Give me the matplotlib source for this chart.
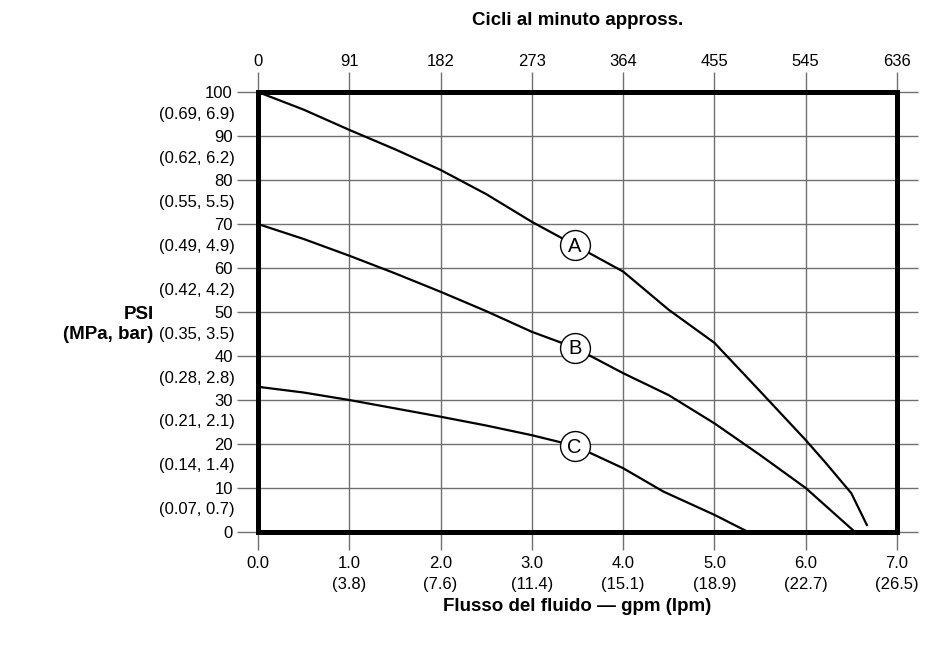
import matplotlib
matplotlib.use("Agg")
import matplotlib.pyplot as plt

plt.rcParams['font.family'] = ['Liberation Sans', 'DejaVu Sans']

# flow in gpm, pressure in psi
gpm_a = [0.0, 0.5, 1.0, 1.5, 2.0, 2.5, 3.0, 3.47, 4.0, 4.5, 5.0, 5.5, 6.0, 6.22, 6.5, 6.67]
psi_a = [100, 96.0, 91.4, 87.0, 82.3, 76.8, 70.5, 65.2, 59.2, 50.5, 43.0, 32.0, 20.9, 15.7, 8.8, 1.6]
gpm_b = [0.0, 0.5, 1.0, 1.5, 2.0, 2.5, 3.0, 3.47, 4.0, 4.5, 5.0, 5.5, 6.0, 6.54]
psi_b = [70, 66.6, 62.8, 58.8, 54.6, 50.2, 45.5, 41.9, 36.1, 31.1, 24.7, 17.5, 10.0, 0.0]
gpm_c = [0.0, 0.5, 1.0, 1.5, 2.0, 2.5, 3.0, 3.47, 4.0, 4.44, 5.0, 5.37]
psi_c = [33, 31.7, 30.0, 28.1, 26.2, 24.2, 22.0, 19.6, 14.5, 9.2, 3.9, 0.0]

curve_names = ['A', 'B', 'C']
label_gpm = [3.47, 3.47, 3.47]
label_psi = [65.2, 41.9, 19.6]

gpm_ticks = [0, 1, 2, 3, 4, 5, 6, 7]
gpm_labels = ['0.0', '1.0\n(3.8)', '2.0\n(7.6)', '3.0\n(11.4)', '4.0\n(15.1)',
              '5.0\n(18.9)', '6.0\n(22.7)', '7.0\n(26.5)']
cpm_labels = ['0', '91', '182', '273', '364', '455', '545', '636']
psi_ticks = [0, 10, 20, 30, 40, 50, 60, 70, 80, 90, 100]
mpa_bar = ['(0.07, 0.7)', '(0.14, 1.4)', '(0.21, 2.1)', '(0.28, 2.8)', '(0.35, 3.5)',
           '(0.42, 4.2)', '(0.49, 4.9)', '(0.55, 5.5)', '(0.62, 6.2)', '(0.69, 6.9)']

fig = plt.figure(figsize=(9.36, 6.49), dpi=100)
ax = fig.add_axes([0.2756, 0.1803, 0.6827, 0.6779])
ax.set_xlim(0, 7)
ax.set_ylim(0, 100)

grid_col = '#707070'
ax.grid(True, color=grid_col, lw=1.0)
ax.set_axisbelow(True)

ax.set_xticks(gpm_ticks)
ax.set_xticklabels(gpm_labels, fontsize=12, linespacing=1.5, va='top')
ax.set_yticks(psi_ticks)
ax.set_yticklabels([str(v) for v in psi_ticks], fontsize=12)
ax.tick_params(axis='x', length=13, color=grid_col, width=1, pad=4)
ax.tick_params(axis='y', length=15, color=grid_col, width=1, pad=3)
ax.tick_params(axis='y', which='major', right=True)

for side in ax.spines.values():
    side.set_linewidth(3.6)
    side.set_color('black')

# secondary labels between psi ticks
for v, txt in zip(psi_ticks[:-1], mpa_bar):
    ax.text(-0.255, v + 5, txt, ha='right', va='center', fontsize=12,
            transform=ax.transData, clip_on=False)

top = ax.secondary_xaxis('top')
top.set_xticks(gpm_ticks)
top.set_xticklabels(cpm_labels, fontsize=12)
top.tick_params(length=14.4, color=grid_col, width=1, pad=2.5)
top.spines['top'].set_visible(False)

for x, y in [(gpm_a, psi_a), (gpm_b, psi_b), (gpm_c, psi_c)]:
    ax.plot(x, y, color='black', lw=1.6, solid_joinstyle='round', zorder=3)

for name, x, y in zip(curve_names, label_gpm, label_psi):
    ax.plot(x, y, 'o', ms=21.5, mfc='white', mec='black', mew=1.0, zorder=4)
    ax.text(x, y - 0.3, name, ha='center', va='center', fontsize=14.5, zorder=5)

fig.text(0.617, 0.968, 'Cicli al minuto appross.', ha='center', va='center',
         fontsize=13.5, fontweight='bold')
fig.text(0.617, 0.066, 'Flusso del fluido \u2014 gpm (lpm)', ha='center', va='center',
         fontsize=13.5, fontweight='bold')
fig.text(0.164, 0.5, 'PSI\n(MPa, bar)', ha='right', va='center',
         fontsize=13.5, fontweight='bold', multialignment='right', linespacing=1.3)

fig.savefig('out.png', dpi=100)
